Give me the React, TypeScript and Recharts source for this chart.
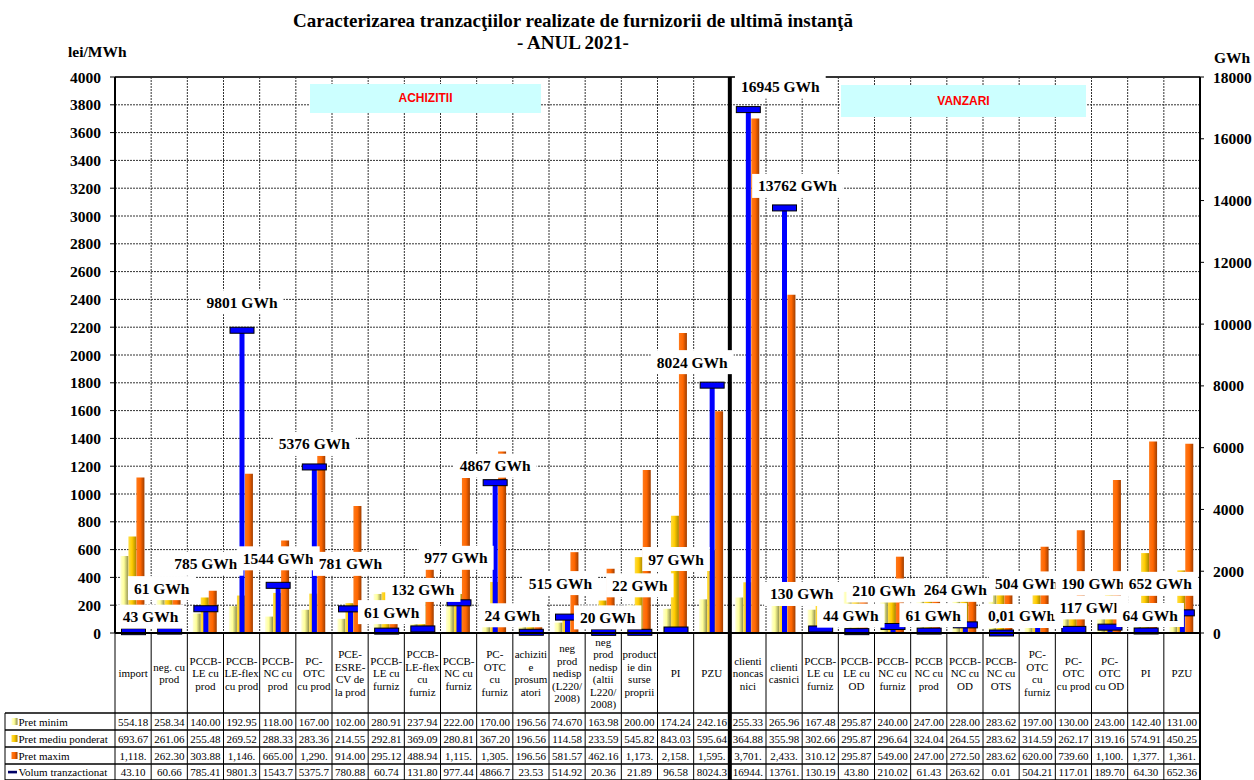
import React from 'react';
import { ComposedChart, Bar, XAxis, YAxis, CartesianGrid, LabelList, ReferenceLine } from 'recharts';

// column headers of the table under the chart (line breaks as in the picture)
const categories = [
  'import', 'neg. cu\nprod', 'PCCB-\nLE cu\nprod', 'PCCB-\nLE-flex\ncu prod', 'PCCB-\nNC cu\nprod',
  'PC-\nOTC\ncu prod', 'PCE-\nESRE-\nCV de\nla prod', 'PCCB-\nLE cu\nfurniz', 'PCCB-\nLE-flex\ncu\nfurniz',
  'PCCB-\nNC cu\nfurniz', 'PC-\nOTC\ncu\nfurniz', 'achiziti\ne\nprosum\natori', 'neg\nprod\nnedisp\n(L220/\n2008)',
  'neg\nprod\nnedisp\n(altii\nL220/\n2008)', 'product\nie din\nsurse\nproprii', 'PI', 'PZU',
  'clienti\nnoncas\nnici', 'clienti\ncasnici', 'PCCB-\nLE cu\nfurniz', 'PCCB-\nLE cu\nOD', 'PCCB-\nNC cu\nfurniz',
  'PCCB\nNC cu\nprod', 'PCCB-\nNC cu\nOD', 'PCCB-\nNC cu\nOTS', 'PC-\nOTC\ncu\nfurniz', 'PC-\nOTC\ncu prod',
  'PC-\nOTC\ncu OD', 'PI', 'PZU',
];

const pretMinim = [554.18, 258.34, 140.0, 192.95, 118.0, 167.0, 102.0, 280.91, 237.94, 222.0, 170.0, 196.56, 74.67, 163.98, 200.0, 174.24, 242.16,
  255.33, 265.96, 167.48, 295.87, 240.0, 247.0, 228.0, 283.62, 197.0, 130.0, 243.0, 142.4, 131.0];
const pretMediu = [693.67, 261.06, 255.48, 269.52, 288.33, 283.36, 214.55, 292.81, 369.09, 280.81, 367.2, 196.56, 114.58, 233.59, 545.82, 843.03, 595.64,
  364.88, 355.98, 302.66, 295.87, 296.64, 324.04, 264.55, 283.62, 314.59, 262.17, 319.16, 574.91, 450.25];
const pretMaxim = [1118, 262.3, 303.88, 1146, 665.0, 1290, 914.0, 295.12, 488.94, 1115, 1305, 196.56, 581.57, 462.16, 1173, 2158, 1595,
  3701, 2433, 310.12, 295.87, 549.0, 247.0, 272.5, 283.62, 620.0, 739.6, 1100, 1377, 1361];
const volum = [43.1, 60.66, 785.41, 9801.3, 1543.7, 5375.7, 780.88, 60.74, 131.8, 977.44, 4866.7, 23.53, 514.92, 20.36, 21.89, 96.58, 8024.3,
  16944.6, 13761.6, 130.19, 43.8, 210.02, 61.43, 263.62, 0.01, 504.21, 117.01, 189.7, 64.3, 652.36];

const leftTicks = [0, 200, 400, 600, 800, 1000, 1200, 1400, 1600, 1800, 2000, 2200, 2400, 2600, 2800, 3000, 3200, 3400, 3600, 3800, 4000];
const rightTicks = [0, 2000, 4000, 6000, 8000, 10000, 12000, 14000, 16000, 18000];

// manual placement of the GWh labels (px, relative to the cap), like the moved Excel labels
const labelNudge = [
  [17, -15], [-8, -43], [0, -45], [0, -28], [0, -27], [0, -23], [0, -45], [5, -19], [0, -39], [-3, -45],
  [0, -17], [-19, -17], [-7, -34], [4, -15], [0, -47], [0, -71], [-20, -23], [32, -23], [13, -22], [-19, -35],
  [-6, -16], [-9, -36], [4, -16], [-10, -35], [20, -17], [-11, -34], [17, -22], [-17, -44], [4, -16], [-22, -29],
];

const data = categories.map((c, i) => ({
  key: String(i),
  min: pretMinim[i],
  avg: pretMediu[i],
  max: pretMaxim[i],
  vol: volum[i],
}));

const SERIF = "'Times New Roman', 'Liberation Serif', serif";
const SANS = "Arial, 'Liberation Sans', sans-serif";
const PLOT_L = 115;
const PLOT_R = 1200;
const PLOT_T = 77;
const PLOT_B = 633;
const COL_W = (PLOT_R - PLOT_L) / categories.length;
const ROW_Y = [713, 730, 747, 764, 780];
const SPLIT = 17;

const fmtPrice = (v: number) => {
  const [a, b] = v.toFixed(3).split('.');
  return (a.replace(/\B(?=(\d{3})+(?!\d))/g, ',') + '.' + b).slice(0, 6);
};
const fmtVol = (v: number) => v.toFixed(2).slice(0, 6);
const volText = (v: number) => (v < 1 ? v.toFixed(2).replace('.', ',') : String(Math.round(v))) + ' GWh';

const legendRows = [
  { name: 'Pret minim', fill: 'url(#gMin)' },
  { name: 'Pret mediu ponderat', fill: 'url(#gMed)' },
  { name: 'Pret maxim', fill: 'url(#gMax)' },
  { name: 'Volum tranzactionat', fill: '#000066' },
];

const TableColumn = (props: any) => {
  const { x, payload } = props;
  const i = Number(payload.value);
  const left = x - COL_W / 2;
  const right = x + COL_W / 2;
  const lines = categories[i].split('\n');
  const lh = 12.5;
  const y0 = (PLOT_B + ROW_Y[0]) / 2 - ((lines.length - 1) * lh) / 2;
  const vals = [fmtPrice(pretMinim[i]), fmtPrice(pretMediu[i]), fmtPrice(pretMaxim[i]), fmtVol(volum[i])];
  return (
    <g>
      <line x1={left} x2={left} y1={PLOT_B} y2={780} stroke="#000" strokeWidth={i === SPLIT ? 4 : 1} />
      {i === categories.length - 1 && <line x1={right} x2={right} y1={PLOT_B} y2={780} stroke="#000" strokeWidth={2} />}
      {i === SPLIT && <line x1={left} x2={left} y1={PLOT_T} y2={PLOT_B} stroke="#000" strokeWidth={4} />}
      {ROW_Y.map((ry) => (
        <line key={ry} x1={left} x2={right} y1={ry} y2={ry} stroke="#000" strokeWidth={1.5} />
      ))}
      <text textAnchor="middle" fontFamily={SERIF} fontSize={11} fill="#000">
        {lines.map((l, k) => (
          <tspan key={k} x={x} y={y0 + k * lh} dominantBaseline="central">{l}</tspan>
        ))}
      </text>
      {vals.map((v, k) => (
        <text key={k} x={x} y={(ROW_Y[k] + ROW_Y[k + 1]) / 2} textAnchor="middle" dominantBaseline="central"
          fontFamily={SERIF} fontSize={11} fill="#000">{v}</text>
      ))}
      {i === 0 && (
        <g>
          <line x1={5} x2={5} y1={ROW_Y[0]} y2={780} stroke="#000" />
          {ROW_Y.map((ry) => (
            <line key={ry} x1={5} x2={left} y1={ry} y2={ry} stroke="#000" strokeWidth={1.5} />
          ))}
          {legendRows.map((r, k) => {
            const cy = (ROW_Y[k] + ROW_Y[k + 1]) / 2;
            return (
              <g key={r.name}>
                {k < 3
                  ? <rect x={11.5} y={cy - 3.5} width={6} height={7} fill={r.fill} />
                  : <rect x={8} y={cy - 1.2} width={9} height={2.6} fill={r.fill} />}
                <text x={18.5} y={cy} dominantBaseline="central" fontFamily={SERIF} fontSize={11} fill="#000">{r.name}</text>
              </g>
            );
          })}
        </g>
      )}
    </g>
  );
};

const VolShape = (props: any) => {
  const { x, y, width, height } = props;
  return (
    <g>
      <rect x={x} y={y} width={width} height={Math.max(height, 0)} fill="#0000FF" />
      <rect x={x + width / 2 - 12} y={y - 3} width={24} height={6} fill="#0000FF" stroke="#000" strokeWidth={1} />
    </g>
  );
};

const VolLabel = (props: any) => {
  const vb = props.viewBox || props;
  let idx = props.index;
  if (idx === undefined || idx === null) idx = volum.indexOf(Number(props.value));
  const v = volum[idx];
  const txt = volText(v);
  const [dx, dy] = labelNudge[idx] || [0, -20];
  const cx = vb.x + vb.width / 2 + dx;
  const cy = vb.y + dy;
  const digits = txt.replace(' GWh', '').length;
  const tw = digits * 7.75 + 40;
  const bw = tw + 12;
  return (
    <g>
      <rect x={cx - bw / 2} y={cy - 12} width={bw} height={24} fill="#fff" />
      <text x={cx} y={cy} textAnchor="middle" dominantBaseline="central" fontFamily={SERIF}
        fontSize={15.5} fontWeight="bold" fill="#000">{txt}</text>
    </g>
  );
};

const tickStyle = { fontSize: 15.5, fontWeight: 'bold', fill: '#000', fontFamily: SERIF };

export default function App() {
  return (
    <div style={{ position: 'absolute', left: 0, top: 0, width: 1254, height: 780, background: '#fff', fontFamily: SERIF }}>
      <svg width={0} height={0} style={{ position: 'absolute' }}>
        <defs>
          <linearGradient id="gMin" x1="0" y1="0" x2="1" y2="0">
            <stop offset="0%" stopColor="#FFFFD6" />
            <stop offset="45%" stopColor="#FFFF99" />
            <stop offset="100%" stopColor="#8C8C4A" />
          </linearGradient>
          <linearGradient id="gMed" x1="0" y1="0" x2="1" y2="0">
            <stop offset="0%" stopColor="#FFDD44" />
            <stop offset="45%" stopColor="#FFCC00" />
            <stop offset="100%" stopColor="#A88400" />
          </linearGradient>
          <linearGradient id="gMax" x1="0" y1="0" x2="1" y2="0">
            <stop offset="0%" stopColor="#FF7A1A" />
            <stop offset="50%" stopColor="#FF6600" />
            <stop offset="100%" stopColor="#9E3D00" />
          </linearGradient>
        </defs>
      </svg>
      <ComposedChart
        width={1254}
        height={780}
        data={data}
        margin={{ top: PLOT_T, right: 0, left: PLOT_L - 60, bottom: 0 }}
        barGap={0}
        barCategoryGap="15%"
      >
        <CartesianGrid
          xAxisId="main"
          yAxisId="left"
          stroke="#333"
          strokeDasharray="2 1"
          verticalCoordinatesGenerator={({ offset }: any) =>
            categories.map((_, k) => offset.left + (k * offset.width) / categories.length)
          }
        />
        <XAxis
          xAxisId="main"
          dataKey="key"
          interval={0}
          height={147}
          tickLine={false}
          axisLine={{ stroke: '#000', strokeWidth: 2 }}
          tick={<TableColumn />}
        />
        <XAxis xAxisId="vol" dataKey="key" hide />
        <YAxis
          yAxisId="left"
          width={60}
          domain={[0, 4000]}
          ticks={leftTicks}
          interval={0}
          tick={tickStyle}
          tickSize={5}
          tickMargin={9}
          tickLine={{ stroke: '#000' }}
          axisLine={{ stroke: '#000', strokeWidth: 2 }}
        />
        <YAxis
          yAxisId="right"
          orientation="right"
          width={54}
          domain={[0, 18000]}
          ticks={rightTicks}
          interval={0}
          tick={tickStyle}
          tickSize={4}
          tickMargin={9}
          tickLine={{ stroke: '#000' }}
          axisLine={{ stroke: '#000', strokeWidth: 2 }}
        />
        <ReferenceLine xAxisId="main" yAxisId="left" y={4000} stroke="#333" strokeWidth={2} />
        <Bar xAxisId="main" yAxisId="left" dataKey="min" name="Pret minim" fill="url(#gMin)" isAnimationActive={false} />
        <Bar xAxisId="main" yAxisId="left" dataKey="avg" name="Pret mediu ponderat" fill="url(#gMed)" isAnimationActive={false} />
        <Bar xAxisId="main" yAxisId="left" dataKey="max" name="Pret maxim" fill="url(#gMax)" isAnimationActive={false} />
        <Bar xAxisId="vol" yAxisId="right" dataKey="vol" name="Volum tranzactionat" barSize={5} shape={VolShape}
          isAnimationActive={false}>
          <LabelList dataKey="vol" content={VolLabel} />
        </Bar>
      </ComposedChart>

      <div style={{ position: 'absolute', left: 0, top: 10, width: 1146, textAlign: 'center', fontSize: 19, fontWeight: 'bold', lineHeight: '22px' }}>
        <div>Caracterizarea tranzacţiilor realizate de furnizorii de ultimă instanţă</div>
        <div>- ANUL 2021-</div>
      </div>
      <div style={{ position: 'absolute', left: 68, top: 42, fontSize: 15.5, fontWeight: 'bold', lineHeight: '20px' }}>lei/MWh</div>
      <div style={{ position: 'absolute', left: 1214, top: 48, fontSize: 15.5, fontWeight: 'bold', lineHeight: '20px' }}>GWh</div>
      <div style={{ position: 'absolute', left: 310, top: 84, width: 231, height: 29, background: '#CCFFFF', color: '#FF0000',
        fontFamily: SANS, fontWeight: 'bold', fontSize: 12, lineHeight: '29px', textAlign: 'center' }}>ACHIZITII</div>
      <div style={{ position: 'absolute', left: 841, top: 85, width: 245, height: 32, background: '#CCFFFF', color: '#FF0000',
        fontFamily: SANS, fontWeight: 'bold', fontSize: 12, lineHeight: '32px', textAlign: 'center' }}>VANZARI</div>
    </div>
  );
}
